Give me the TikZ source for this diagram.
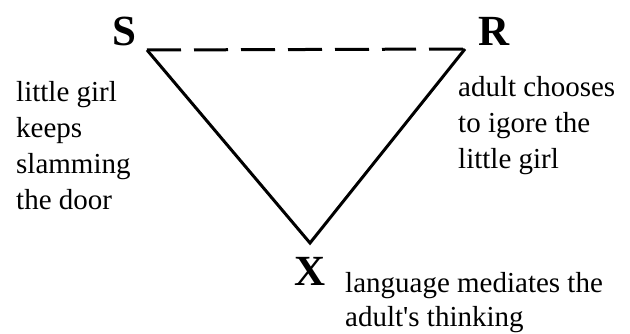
\documentclass[tikz,border=0pt]{standalone}
\usepackage{fontspec}
\setmainfont{Liberation Serif}
\newfontfamily\plainserif{Liberation Serif}
\begin{document}
\begin{tikzpicture}[x=1pt,y=-1pt,
  lbl/.style={inner sep=0pt,anchor=base west,font=\fontsize{43}{43}\selectfont\bfseries},
  note/.style={inner sep=0pt,anchor=base west,font=\plainserif\fontsize{29}{36}\selectfont},
  edge/.style={line width=3pt,line join=miter},
  dashedge/.style={line width=3pt,dash pattern=on 34pt off 13pt}]
\useasboundingbox (0,0) rectangle (630,334);
\fill[white] (0,0) rectangle (630,334);
\coordinate (sv) at (147,50);
\coordinate (rv) at (465,49);
\coordinate (xv) at (310,243);
\node[lbl] (S) at (112,46) {S};
\node[lbl] (R) at (478,46) {R};
\node[lbl] (X) at (294,286) {X};
\draw[dashedge] (sv) -- (rv);
\draw[edge] (sv) -- (xv) -- (rv);
\node[note] (left) at (16,102) {\vtop{\baselineskip=36pt\hbox{little girl}\hbox{keeps}\hbox{slamming}\hbox{the door}}};
\node[note] (right) at (458,97) {\vtop{\baselineskip=36pt\hbox{adult chooses}\hbox{to igore the}\hbox{little girl}}};
\node[note] (bottom) at (345,293) {\vtop{\baselineskip=33pt\hbox{language mediates the}\hbox{adult's thinking}}};
\end{tikzpicture}
\end{document}
